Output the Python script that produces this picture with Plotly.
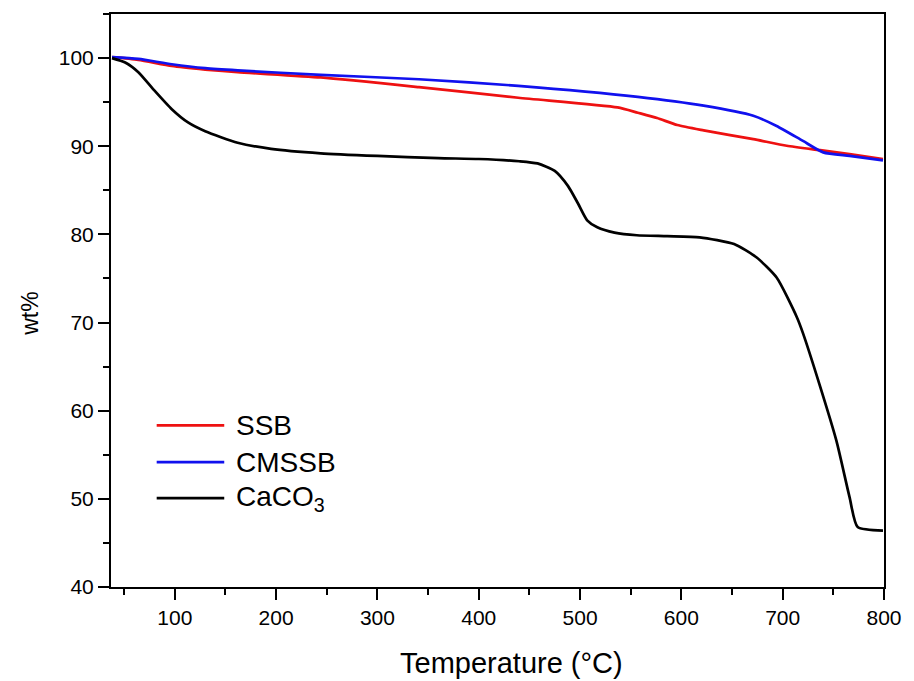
import plotly.graph_objects as go

# ---- data ----
ssb_temp = [38, 64, 97, 130, 162, 244, 341, 439, 537, 557, 576, 596, 622, 671, 704, 737, 766, 799]
ssb_wt = [100.1, 99.8, 99.1, 98.7, 98.4, 97.8, 96.7, 95.5, 94.4, 93.8, 93.2, 92.4, 91.8, 90.8, 90.05, 89.55, 89.1, 88.55]

cmssb_temp = [38, 64, 97, 130, 162, 244, 341, 439, 557, 622, 671, 694, 720, 740, 766, 799]
cmssb_wt = [100.1, 99.9, 99.3, 98.85, 98.6, 98.1, 97.6, 96.85, 95.6, 94.6, 93.45, 92.3, 90.6, 89.3, 88.9, 88.4]

caco3_temp = [38, 51, 64, 80, 97, 113, 130, 162, 195, 244, 300, 360, 400, 440, 458, 475, 488, 498, 507, 517, 534, 556,
              586, 618, 652, 674, 694, 714, 720, 736, 753, 766, 774, 799]
caco3_wt = [100, 99.5, 98.4, 96.3, 94.2, 92.7, 91.7, 90.4, 89.7, 89.2, 88.9, 88.65, 88.55, 88.3, 88.05, 87.2, 85.5, 83.5,
            81.6, 80.8, 80.2, 79.9, 79.8, 79.67, 78.9, 77.4, 75.1, 70.6, 68.8, 63.1, 56.6, 50.2, 46.8, 46.4]

series_names = ["SSB", "CMSSB", "CaCO<sub>3</sub>"]
series_colors = ["#ee1111", "#1111ee", "#000000"]

x_ticks = [100, 200, 300, 400, 500, 600, 700, 800]
y_ticks = [40, 50, 60, 70, 80, 90, 100]

FONT = "Arial, Liberation Sans, sans-serif"

fig = go.Figure()
for xs, ys, name, col in zip([ssb_temp, cmssb_temp, caco3_temp], [ssb_wt, cmssb_wt, caco3_wt],
                             series_names, series_colors):
    fig.add_trace(go.Scatter(x=xs, y=ys, mode="lines", name=name, showlegend=False,
                             line=dict(color=col, width=2.7, shape="spline", smoothing=0.6)))

axis_common = dict(showgrid=False, zeroline=False, showline=True, linecolor="black", linewidth=2,
                   mirror=True, ticks="outside", ticklen=11, tickwidth=2, tickcolor="black",
                   tickfont=dict(family=FONT, size=21, color="black"))

fig.update_xaxes(range=[37, 800], tickvals=x_ticks,
                 minor=dict(ticks="outside", ticklen=6, tickwidth=2, tickcolor="black", dtick=50, tick0=50),
                 **axis_common)
fig.update_yaxes(range=[40, 105], tickvals=y_ticks,
                 minor=dict(ticks="outside", ticklen=6, tickwidth=2, tickcolor="black", dtick=5, tick0=45),
                 **axis_common)

# axis titles
fig.add_annotation(text="Temperature (°C)", xref="paper", yref="paper", x=0.518, y=-0.132,
                   xanchor="center", yanchor="middle", showarrow=False,
                   font=dict(family=FONT, size=29, color="black"))
fig.add_annotation(text="wt%", xref="paper", yref="paper", x=-0.104, y=0.476,
                   xanchor="center", yanchor="middle", showarrow=False, textangle=-90,
                   font=dict(family=FONT, size=23, color="black"))

# legend (drawn manually to match the long legend lines)
leg_y = [0.2822, 0.2178, 0.155]
for name, col, yy in zip(series_names, series_colors, leg_y):
    fig.add_shape(type="line", xref="paper", yref="paper", x0=0.0591, x1=0.1465, y0=yy, y1=yy,
                  line=dict(color=col, width=2.7))
    fig.add_annotation(text=name, xref="paper", yref="paper", x=0.1594, y=yy,
                       xanchor="left", yanchor="middle", showarrow=False,
                       font=dict(family=FONT, size=28, color="black"))

fig.update_layout(
    width=914, height=681,
    margin=dict(l=111, r=20, t=13, b=94),
    paper_bgcolor="white", plot_bgcolor="white",
    font=dict(family=FONT, color="black"),
)

fig.write_html("out.html", post_script="document.body.style.margin='0';",
               config={"displayModeBar": False})
